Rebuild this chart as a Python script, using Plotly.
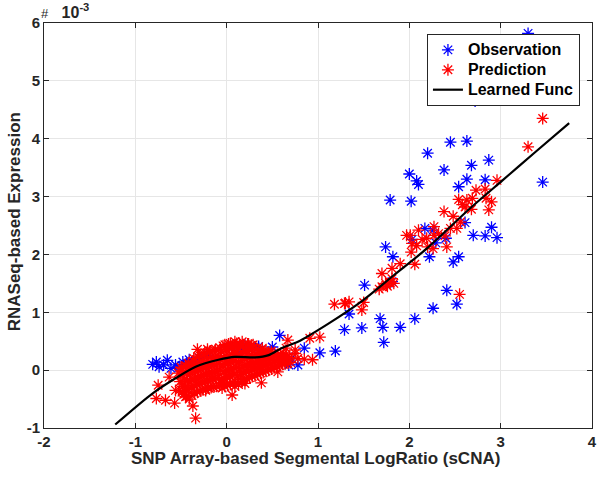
import plotly.graph_objects as go

# ---------------- data (y in units of 1e-3) ----------------
obs_x = [3.30, 2.72, 3.46, 2.45, 2.63, 2.68, 2.87, 2.38, 2.63, 2.83, 2.54, 2.61, 2.90, 2.70,
         2.83, 2.96, 2.40, 2.54, 2.20, 2.00, 2.08, 2.10, 1.79, 2.02, 1.74, 2.17, 2.26, 1.82,
         2.22, 2.48, 2.41, 2.52, 2.26, 2.06, 1.68, 1.81, 1.51, 1.34, 1.71, 1.90, 1.72, 1.48,
         1.29, 1.19, 1.02, 0.85, 0.58, 0.50, 0.68, 0.71, 0.35, 0.78, 0.20, 0.02,
         -0.77, -0.74, -0.65, -0.61, -0.56, -0.48, -0.41, -0.81, -0.69, -0.52, -0.44, -0.36,
         -0.30, -0.25, -0.20, 0.31, 0.17, 0.46, 0.65, 0.06, 2.03, 2.29]
obs_y = [5.82, 4.65, 3.25, 3.94, 3.96, 3.54, 3.63, 3.46, 3.30, 3.29, 3.17, 2.55, 2.47, 2.33,
         2.32, 2.29, 2.28, 1.96, 3.75, 3.39, 3.27, 3.21, 2.94, 2.92, 2.13, 2.45, 2.42, 1.96,
         1.96, 1.87, 1.38, 1.14, 1.07, 0.89, 0.89, 1.53, 1.47, 0.97, 0.74, 0.74, 0.48, 0.73,
         0.70, 0.33, 0.30, 0.38, 0.60, 0.40, 0.09, 0.20, 0.41, 0.09, 0.43, 0.40,
         0.14, 0.06, 0.17, 0.03, 0.09, 0.14, 0.18, 0.10, 0.09, 0.05, 0.09, 0.14,
         0.21, 0.24, 0.26, 0.40, 0.36, 0.29, 0.14, 0.40, 2.26, 2.20]

pred_x = [3.46, 3.30, 2.96, 2.73, 2.83, 2.54, 2.63, 2.69, 2.58, 2.61, 2.84, 2.90, 2.68, 2.87,
          2.38, 2.48, 2.52, 2.45, 2.56, 2.41, 2.32, 2.01, 2.10, 2.19, 2.27, 2.03, 2.08, 2.02,
          2.06, 2.26, 2.55, 1.90, 1.81, 1.70, 1.81, 1.74, 1.70, 1.76, 1.79, 1.50, 1.48, 1.18,
          1.30, 1.34, 1.02, 0.91, 0.85, 0.67, 0.56, 0.38, 0.75, 0.65, 0.17, 0.09, 0.06, -0.03,
          -0.21, -0.75, -0.77, -0.67, -0.57, -0.45, -0.37, -0.34, -0.63, -0.32, 0.94, -0.20,
          -0.45, 1.97, 2.14, 2.39, 2.20, 2.27, 0.11, 0.17, 0.27, -0.56, -0.05, 0.20, -0.23,
          0.09, 0.38, 0.78, 0.75, 1.29, 1.67, 1.75, 1.83,
          # dense cluster near the origin
          -0.52, -0.51, -0.53, -0.50,
          -0.47, -0.48, -0.46, -0.47, -0.45,
          -0.41, -0.42, -0.40, -0.41, -0.39, -0.42,
          -0.35, -0.36, -0.34, -0.35, -0.33, -0.36,
          -0.29, -0.30, -0.28, -0.29, -0.27, -0.30,
          -0.23, -0.24, -0.22, -0.23, -0.21, -0.24,
          -0.17, -0.18, -0.16, -0.17, -0.15, -0.18,
          -0.11, -0.12, -0.10, -0.11, -0.09, -0.12,
          -0.05, -0.06, -0.04, -0.05, -0.03, -0.06, -0.04,
          0.01, 0.00, 0.02, 0.01, 0.03, 0.00, 0.02,
          0.07, 0.06, 0.08, 0.07, 0.09, 0.06,
          0.13, 0.12, 0.14, 0.13, 0.15, 0.12, 0.14,
          0.19, 0.18, 0.20, 0.19, 0.21, 0.18,
          0.25, 0.24, 0.26, 0.25, 0.27, 0.24,
          0.31, 0.30, 0.32, 0.31, 0.33,
          0.37, 0.36, 0.38, 0.37, 0.39,
          0.43, 0.42, 0.44, 0.43,
          0.49, 0.48, 0.50, 0.49,
          0.55, 0.54, 0.56,
          0.61, 0.60, 0.62,
          0.67, 0.66,
          -0.49, -0.48, -0.50, -0.49,
          -0.44, -0.45, -0.43, -0.44, -0.45,
          -0.38, -0.39, -0.37, -0.38, -0.39, -0.37,
          -0.32, -0.33, -0.31, -0.32, -0.33, -0.31,
          -0.26, -0.27, -0.25, -0.26, -0.27, -0.25,
          -0.20, -0.21, -0.19, -0.20, -0.21, -0.19,
          -0.14, -0.15, -0.13, -0.14, -0.15, -0.13,
          -0.08, -0.09, -0.07, -0.08, -0.09, -0.07,
          -0.02, -0.03, -0.01, -0.02, -0.03, -0.01, -0.02,
          0.04, 0.03, 0.05, 0.04, 0.03, 0.05, 0.04,
          0.10, 0.09, 0.11, 0.10, 0.09, 0.11,
          0.16, 0.15, 0.17, 0.16, 0.15, 0.17,
          0.22, 0.21, 0.23, 0.22, 0.21, 0.23,
          0.28, 0.27, 0.29, 0.28, 0.27, 0.29,
          0.34, 0.33, 0.35, 0.34, 0.33,
          0.40, 0.39, 0.41, 0.40, 0.39,
          0.46, 0.45, 0.47, 0.46,
          0.52, 0.51, 0.53, 0.52,
          0.58, 0.57, 0.59,
          0.64, 0.63, 0.65,
          0.70, 0.69]
pred_y = [4.35, 3.86, 3.28, 3.11, 3.13, 2.95, 2.94, 2.97, 2.86, 2.82, 2.97, 2.91, 2.78, 2.77,
          2.74, 2.66, 2.45, 2.45, 2.56, 2.13, 2.36, 2.33, 2.42, 2.28, 2.33, 2.19, 2.15, 2.04,
          1.83, 2.10, 1.31, 1.84, 1.76, 1.67, 1.58, 1.50, 1.44, 1.45, 1.51, 1.17, 1.04, 1.14,
          1.16, 1.18, 0.57, 0.55, 0.19, 0.52, -0.03, -0.22, 0.35, 0.38, -0.20, -0.28, -0.43, -0.22,
          0.36, -0.26, -0.49, -0.52, -0.57, -0.46, -0.62, -0.83, -0.12, 0.36, 0.18, -0.30,
          -0.38, 2.33, 2.26, 2.32, 2.13, 2.48, 0.46, 0.49, 0.43, -0.35, -0.23, -0.23, -0.35,
          0.49, 0.06, 0.20, 0.29, 1.15, 1.40, 1.47, 1.50,
          # dense cluster near the origin
          -0.35, -0.20, -0.05, 0.05,
          -0.42, -0.28, -0.15, -0.02, 0.08,
          -0.50, -0.33, -0.20, -0.08, 0.04, 0.12,
          -0.40, -0.27, -0.14, -0.02, 0.10, 0.20,
          -0.36, -0.22, -0.10, 0.02, 0.14, 0.26,
          -0.33, -0.20, -0.07, 0.05, 0.17, 0.30,
          -0.30, -0.17, -0.04, 0.08, 0.20, 0.33,
          -0.28, -0.14, -0.02, 0.10, 0.22, 0.36,
          -0.31, -0.16, -0.03, 0.09, 0.21, 0.33, 0.42,
          -0.26, -0.12, 0.00, 0.12, 0.24, 0.36, 0.45,
          -0.22, -0.09, 0.03, 0.15, 0.27, 0.39,
          -0.25, -0.10, 0.02, 0.14, 0.26, 0.38, 0.46,
          -0.16, -0.04, 0.08, 0.20, 0.32, 0.44,
          -0.13, -0.01, 0.11, 0.23, 0.35, 0.45,
          -0.10, 0.02, 0.13, 0.25, 0.37,
          -0.05, 0.06, 0.17, 0.28, 0.38,
          -0.02, 0.09, 0.20, 0.31,
          0.02, 0.12, 0.22, 0.32,
          0.06, 0.16, 0.26,
          0.10, 0.19, 0.28,
          0.12, 0.22,
          -0.38, -0.24, -0.10, 0.03,
          -0.45, -0.31, -0.17, -0.05, 0.07,
          -0.44, -0.30, -0.17, -0.04, 0.07, 0.16,
          -0.38, -0.25, -0.12, 0.00, 0.12, 0.23,
          -0.34, -0.21, -0.08, 0.04, 0.16, 0.28,
          -0.31, -0.18, -0.05, 0.07, 0.19, 0.32,
          -0.29, -0.15, -0.03, 0.09, 0.21, 0.34,
          -0.27, -0.13, 0.00, 0.12, 0.24, 0.38,
          -0.28, -0.14, -0.01, 0.11, 0.23, 0.35, 0.44,
          -0.24, -0.10, 0.02, 0.14, 0.26, 0.38, 0.46,
          -0.21, -0.07, 0.05, 0.17, 0.29, 0.41,
          -0.20, -0.07, 0.05, 0.17, 0.29, 0.41,
          -0.15, -0.02, 0.10, 0.22, 0.34, 0.45,
          -0.11, 0.01, 0.12, 0.24, 0.36, 0.44,
          -0.07, 0.04, 0.15, 0.27, 0.37,
          -0.04, 0.08, 0.19, 0.30, 0.36,
          0.00, 0.11, 0.21, 0.31,
          0.04, 0.14, 0.24, 0.30,
          0.08, 0.18, 0.27,
          0.11, 0.21, 0.27,
          0.13, 0.22]

func_x = [-1.22, -0.81, -0.56, -0.34, -0.09, 0.09, 0.31, 0.46, 0.60, 0.78, 1.11, 1.47,
          1.83, 2.19, 2.66, 3.02, 3.38, 3.75]
func_y = [-0.94, -0.40, -0.14, 0.06, 0.18, 0.23, 0.22, 0.26, 0.38, 0.49, 0.80, 1.18,
          1.64, 2.10, 2.79, 3.28, 3.77, 4.27]

series_names = ["Observation", "Prediction", "Learned Func"]
x_ticks = [-2, -1, 0, 1, 2, 3, 4]
y_ticks = [-1, 0, 1, 2, 3, 4, 5, 6]

# ---------------- figure ----------------
FONT = "Liberation Sans"
AX = "#262626"


def legend_label(s):
    return "<span style='font-size:16px'>" + s + "</span>"


fig = go.Figure()
fig.add_trace(go.Scatter(
    x=obs_x, y=obs_y, mode="markers", name=legend_label(series_names[0]),
    marker=dict(symbol="asterisk-open", size=10, color="#0000ff",
                line=dict(color="#0000ff", width=1.3))))
fig.add_trace(go.Scatter(
    x=pred_x, y=pred_y, mode="markers", name=legend_label(series_names[1]),
    marker=dict(symbol="asterisk-open", size=10, color="#ff0000",
                line=dict(color="#ff0000", width=1.3))))
fig.add_trace(go.Scatter(
    x=func_x, y=func_y, mode="lines", name=legend_label(series_names[2]),
    line=dict(color="black", width=2.2, shape="spline", smoothing=0.8)))

axis_common = dict(
    showline=True, linecolor=AX, linewidth=1, mirror="ticks",
    ticks="inside", ticklen=5, tickcolor=AX, tickwidth=1,
    showgrid=True, gridcolor="#e6e6e6", gridwidth=1, zeroline=False,
    ticklabeloverflow="allow",
    tickfont=dict(family=FONT, size=15, color=AX, weight="bold"),
)
fig.update_xaxes(range=[-2, 4], tickvals=x_ticks, ticktext=[str(v) for v in x_ticks],
                 **axis_common)
fig.update_yaxes(range=[-1, 6], tickvals=y_ticks, ticktext=[str(v) for v in y_ticks],
                 **axis_common)

fig.update_layout(
    width=601, height=478, autosize=False,
    margin=dict(l=44, r=4, t=23, b=50),
    plot_bgcolor="white", paper_bgcolor="white",
    font=dict(family=FONT, color=AX),
    showlegend=True,
    legend=dict(
        x=0.978, y=0.973, xanchor="right", yanchor="top",
        bgcolor="white", bordercolor=AX, borderwidth=1,
        font=dict(family=FONT, size=13, color="black", weight="bold"),
        itemwidth=30, tracegroupgap=0,
    ),
    annotations=[
        dict(text="<b>SNP Array-based Segmental LogRatio (sCNA)</b>",
             xref="paper", yref="paper", x=0.4955, y=-0.0765,
             xanchor="center", yanchor="middle", showarrow=False,
             font=dict(family=FONT, size=17, color=AX)),
        dict(text="<b>RNASeq-based Expression</b>",
             xref="paper", yref="paper", x=-0.054, y=0.509, textangle=-90,
             xanchor="center", yanchor="middle", showarrow=False,
             font=dict(family=FONT, size=17, color=AX)),
        dict(text="<span style='font-size:13px'>#</span>&nbsp;&nbsp; <b>10<sup>-3</sup></b>",
             xref="paper", yref="paper", x=-0.009, y=1.0,
             xanchor="left", yanchor="bottom", align="left", showarrow=False,
             font=dict(family=FONT, size=16, color=AX)),
    ],
)

fig.write_html("out.html", config={"displayModeBar": False},
               post_script="document.body.style.margin='0';document.body.style.overflow='hidden';")
